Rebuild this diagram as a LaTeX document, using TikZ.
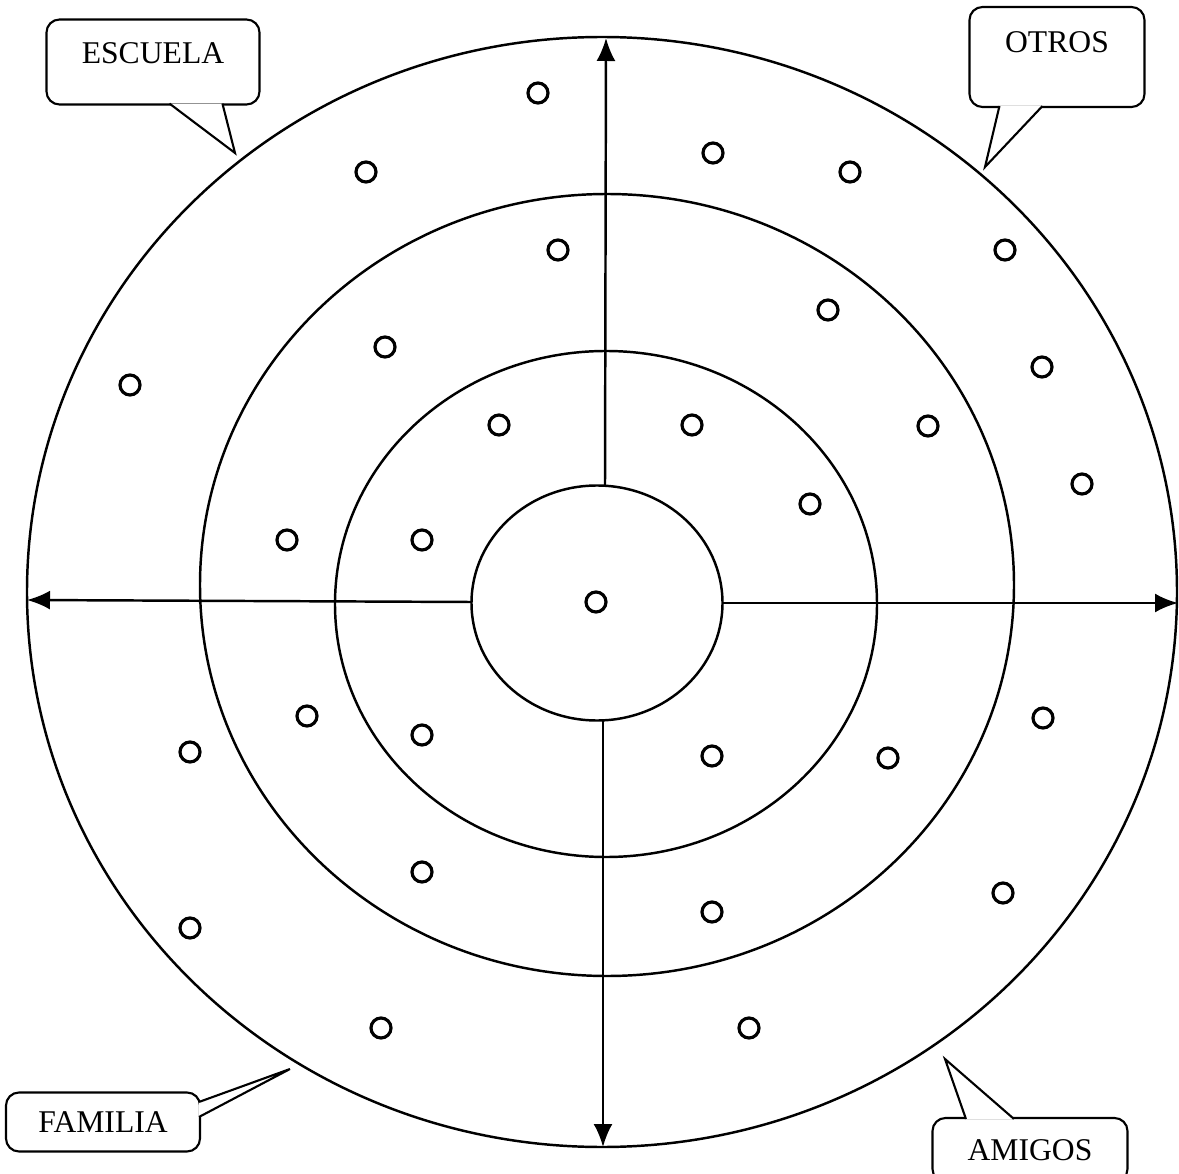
\documentclass[tikz,border=0pt]{standalone}
\usepackage{fontspec}
\setmainfont{Liberation Serif}
\usetikzlibrary{arrows.meta,calc}

\tikzset{
  balloon/.style={draw,rounded corners=1.3mm,line width=0.6pt,fill=white,
    inner sep=0pt,font=\fontsize{9}{10}\selectfont},
  pointer/.style={fill=white,line width=0.6pt,line join=miter},
  ring/.style={line width=0.7pt},
  person/.style={line width=0.9pt}
}

\begin{document}
\begin{tikzpicture}[x=0.1mm,y=-0.1mm,>={Latex[length=2.3mm,width=1.9mm]}]
  \useasboundingbox (0,0) rectangle (1179,1174);
  \draw[ring] (602,592) ellipse [x radius=575,y radius=555];
  \draw[ring] (607,585) ellipse [x radius=407,y radius=391];
  \draw[ring] (606,604) ellipse [x radius=271,y radius=253];
  \draw[ring] (597,603) ellipse [x radius=125.5,y radius=117.5];

  \coordinate (inner n) at (605,486);
  \coordinate (inner s) at (603,721);
  \coordinate (inner w) at (472,602);
  \coordinate (inner e) at (723,603);
  \coordinate (top) at (606,38);
  \coordinate (bottom) at (603,1147);
  \coordinate (left) at (27,600);
  \coordinate (right) at (1178,603);
  \draw[ring,->] (inner n) -- (top);
  \draw[ring,->] (inner s) -- (bottom);
  \draw[ring,->] (inner w) -- (left);
  \draw[ring,->] (inner e) -- (right);

  \foreach \p in {(538,93),(366,172),(713,153),(850,172),(1005,250),(558,250),
    (828,310),(385,347),(130,385),(1042,367),(499,425),(692,425),(928,426),
    (1082,484),(810,504),(287,540),(422,540),(596,602),(307,716),(1043,718),
    (190,752),(422,735),(712,756),(888,758),(422,872),(1003,893),(712,912),
    (190,928),(381,1028),(749,1028)}
    \draw[person] \p circle [radius=10];

  \node[balloon,minimum width=21.3mm,minimum height=8.5mm,text depth=1.8mm]
    (escuela) at (153,62) {ESCUELA};
  \node[balloon,minimum width=17.5mm,minimum height=10mm,text depth=3mm]
    (otros) at (1057,57) {OTROS};
  \node[balloon,minimum width=19.4mm,minimum height=5.9mm]
    (familia) at (103,1122) {FAMILIA};
  \node[balloon,minimum width=19.5mm,minimum height=6.4mm]
    (amigos) at (1030,1150) {AMIGOS};

  \coordinate (escuela tip) at (235,153);
  \coordinate (otros tip) at (985,167);
  \coordinate (familia tip) at (290,1069);
  \coordinate (amigos tip) at (945,1059);
  \draw[pointer] ($(escuela.south west)+(124,-2)$) -- (escuela tip)
    -- ($(escuela.south west)+(177,-2)$);
  \draw[pointer] ($(otros.south west)+(31,-2)$) -- (otros tip)
    -- ($(otros.south west)+(74,-2)$);
  \draw[pointer] ($(familia.north east)+(-2,10.5)$) -- (familia tip)
    -- ($(familia.north east)+(-2,25.5)$);
  \draw[pointer] ($(amigos.north west)+(34.5,2)$) -- (amigos tip)
    -- ($(amigos.north west)+(82.5,2)$);
\end{tikzpicture}
\end{document}
